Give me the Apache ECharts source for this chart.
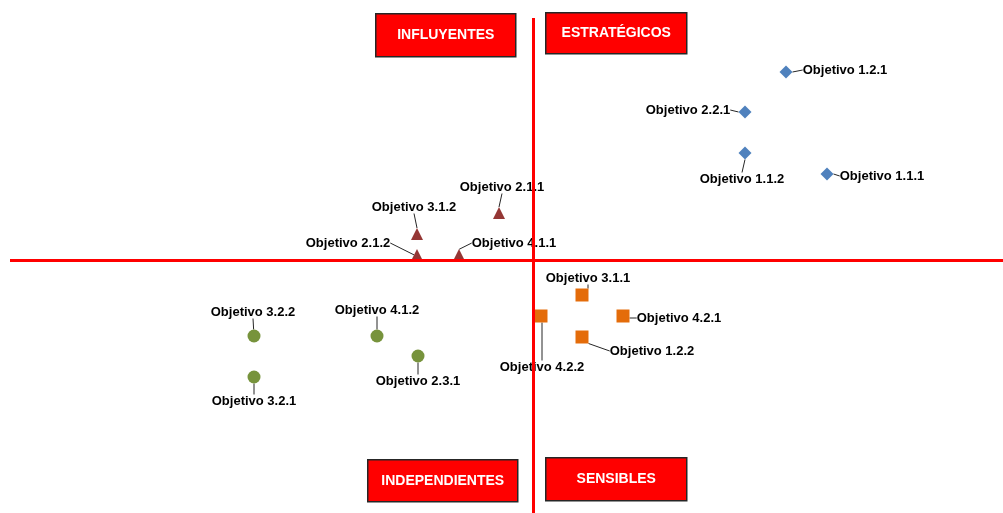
<!DOCTYPE html>
<html>
<head>
<meta charset="utf-8">
<script src="https://cdn.jsdelivr.net/npm/echarts@6/dist/echarts.min.js"></script>
<style>
  html, body { margin: 0; padding: 0; background: #fff; }
  #chartDom { width: 1003px; height: 513px; }
</style>
</head>
<body>
<div id="chartDom"></div>
<script>
// datos (dependencia en x, influencia en y)
var estrategicos = [['Objetivo 1.2.1', 77.6, 44.1], ['Objetivo 2.2.1', 73.5, 40.1], ['Objetivo 1.1.2', 73.5, 36.0], ['Objetivo 1.1.1', 81.7, 33.9]];
var influyentes = [['Objetivo 2.1.1', 48.9, 30.0], ['Objetivo 3.1.2', 40.7, 27.9], ['Objetivo 2.1.2', 40.7, 25.8], ['Objetivo 4.1.1', 44.9, 25.8]];
var sensibles = [['Objetivo 3.1.1', 57.2, 21.8], ['Objetivo 4.2.1', 61.3, 19.7], ['Objetivo 4.2.2', 53.1, 19.7], ['Objetivo 1.2.2', 57.2, 17.6]];
var independientes = [['Objetivo 3.2.2', 24.4, 17.7], ['Objetivo 4.1.2', 36.7, 17.7], ['Objetivo 2.3.1', 40.8, 15.7], ['Objetivo 3.2.1', 24.4, 13.6]];
var corteX = 52.3;
var corteY = 25.3;

// desplazamiento de cada etiqueta respecto a su punto (px)
var desplaza = {
    'Objetivo 1.2.1': [59, -2], 'Objetivo 2.2.1': [-57, -2], 'Objetivo 1.1.2': [-3, 26], 'Objetivo 1.1.1': [55, 2],
    'Objetivo 2.1.1': [3, -26], 'Objetivo 3.1.2': [-3, -27], 'Objetivo 2.1.2': [-69, -12], 'Objetivo 4.1.1': [55, -12],
    'Objetivo 3.1.1': [6, -17], 'Objetivo 4.2.1': [56, 2], 'Objetivo 4.2.2': [1, 51], 'Objetivo 1.2.2': [70, 14],
    'Objetivo 3.2.2': [-1, -24], 'Objetivo 4.1.2': [0, -26], 'Objetivo 2.3.1': [0, 25], 'Objetivo 3.2.1': [0, 24]
};

var chartDom = echarts.init(document.getElementById('chartDom'));

function serie(nombre, datos, simbolo, tam, color) {
    return {
        name: nombre,
        type: 'scatter',
        z: 3,
        symbol: simbolo,
        symbolSize: tam,
        itemStyle: { color: color, opacity: 1 },
        data: datos.map(function (d) { return { name: d[0], value: [d[1], d[2]] }; }),
        label: {
            show: true,
            position: 'inside',
            formatter: '{b}',
            color: '#000',
            fontFamily: 'Liberation Sans',
            fontWeight: 'bold',
            fontSize: 13
        },
        labelLine: { show: true, lineStyle: { color: '#262626', width: 1 } },
        labelLayout: function (p) {
            var o = desplaza[datos[p.dataIndex][0]];
            return { dx: o[0], dy: o[1] };
        },
        emphasis: { disabled: true }
    };
}

function caja(texto, x, y, w, h) {
    return {
        type: 'group',
        left: x,
        top: y,
        children: [
            { type: 'rect', shape: { width: w, height: h }, style: { fill: '#ff0000', stroke: '#262626', lineWidth: 1.5 } },
            { type: 'text', style: { text: texto, x: w / 2, y: h / 2, align: 'center', verticalAlign: 'middle',
                fill: '#fff', font: 'bold 14px "Liberation Sans"' } }
        ]
    };
}

chartDom.setOption({
    animation: false,
    grid: { left: 10, right: 0, top: 18, bottom: 0 },
    xAxis: { type: 'value', min: 0, max: 99.3, show: false },
    yAxis: { type: 'value', min: 0, max: 49.5, show: false },
    graphic: [
        caja('INFLUYENTES', 375, 13, 140, 43),
        caja('ESTRATÉGICOS', 545, 12, 141, 41),
        caja('INDEPENDIENTES', 367, 459, 150, 42),
        caja('SENSIBLES', 545, 457, 141, 43)
    ],
    series: [
        {
            type: 'scatter',
            z: 1,
            data: [],
            markLine: {
                silent: true,
                symbol: 'none',
                label: { show: false },
                lineStyle: { color: '#ff0000', width: 3, type: 'solid' },
                data: [{ xAxis: corteX }, { yAxis: corteY }]
            }
        },
        serie('Estratégicos', estrategicos, 'diamond', 13, '#4f81bd'),
        serie('Influyentes', influyentes, 'triangle', 12, '#953735'),
        serie('Sensibles', sensibles, 'rect', 13, '#e46c0a'),
        serie('Independientes', independientes, 'circle', 13, '#77933c')
    ]
});
</script>
</body>
</html>
